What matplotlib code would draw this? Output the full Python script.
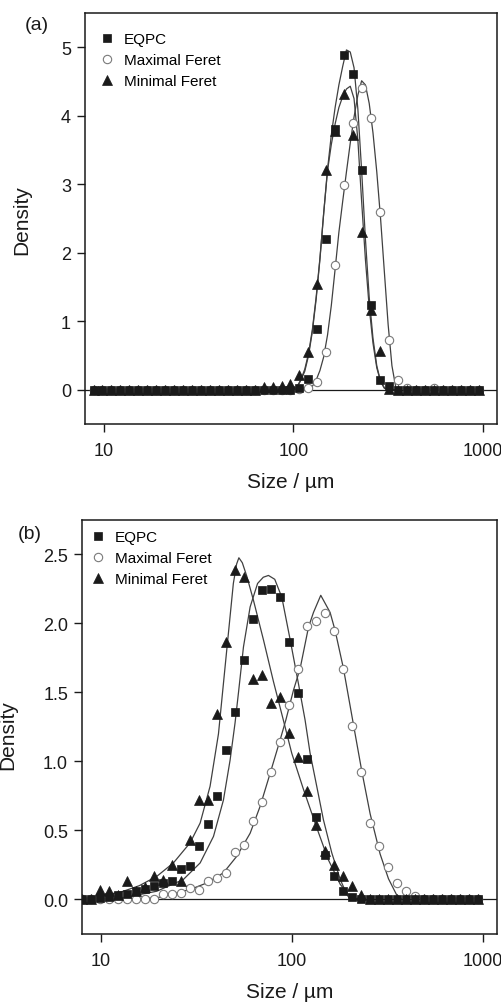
"""Particle size density: EQPC, maximal and minimal Feret, two samples (a) and (b)."""

import matplotlib
matplotlib.use("Agg")
import matplotlib.pyplot as plt
from matplotlib.lines import Line2D
from matplotlib.ticker import NullLocator

plt.rcParams["font.family"] = ["Liberation Sans", "DejaVu Sans"]

# ------------------------------------------------------------
# data
# ------------------------------------------------------------

# measurement size classes, µm
SIZE_GRID = [7.90, 8.81, 9.82, 10.95, 12.20, 13.61, 15.18, 16.92, 18.87, 21.03,
             23.45, 26.15, 29.15, 32.51, 36.24, 40.41, 45.06, 50.23, 56.01, 62.45,
             69.63, 77.64, 86.57, 96.51, 107.6, 120.0, 133.8, 149.2, 166.3, 185.5,
             206.8, 230.6, 257.1, 286.7, 319.6, 356.4, 397.3, 443.0, 493.9, 550.7,
             614.0, 684.6, 763.4, 851.1, 949.0]

# panel (a) uses SIZE_GRID[1:]
A_EQPC = [0.00, 0.00, 0.00, 0.00, 0.00, 0.00, 0.00, 0.00, 0.00, 0.00,
          0.00, 0.00, 0.00, 0.00, 0.00, 0.00, 0.00, 0.00, 0.00, 0.00,
          0.00, 0.00, 0.00, 0.02, 0.16, 0.88, 2.20, 3.80, 4.89, 4.61,
          3.21, 1.24, 0.14, 0.06, 0.00, 0.00, 0.00, 0.00, 0.00, 0.00,
          0.00, 0.00, 0.00, 0.00]
A_MAXFERET = [0.00, 0.00, 0.00, 0.00, 0.00, 0.00, 0.00, 0.00, 0.00, 0.00,
              0.00, 0.00, 0.00, 0.00, 0.00, 0.00, 0.00, 0.00, 0.00, 0.00,
              0.00, 0.00, 0.00, 0.01, 0.03, 0.11, 0.55, 1.82, 2.99, 3.90,
              4.40, 3.97, 2.60, 0.72, 0.14, 0.02, 0.00, 0.00, 0.02, 0.00,
              0.00, 0.00, 0.00, 0.00]
A_MINFERET = [0.00, 0.00, 0.00, 0.00, 0.00, 0.00, 0.00, 0.00, 0.00, 0.00,
              0.00, 0.00, 0.00, 0.00, 0.00, 0.00, 0.00, 0.00, 0.00, 0.04,
              0.04, 0.05, 0.08, 0.21, 0.55, 1.545, 3.21, 3.77, 4.31, 3.72,
              2.30, 1.16, 0.57, 0.01, 0.00, 0.00, 0.00, 0.00, 0.00, 0.00,
              0.00, 0.00, 0.00, 0.00]

# fitted curves, panel (a)
A_FIT_SIZE = [100.0, 104.7, 109.6, 114.8, 120.2, 125.9, 131.8, 138.0, 144.5, 151.4,
              158.5, 166.0, 173.8, 182.0, 190.5, 199.5, 208.9, 218.8, 229.1, 239.9,
              251.2, 263.0, 275.4, 288.4, 302.0, 316.2, 331.1, 346.7, 363.1]
A_FIT_EQPC = [0.00, 0.04, 0.14, 0.27, 0.50, 0.85, 1.32, 1.90, 2.58, 3.22,
              3.72, 4.12, 4.45, 4.72, 4.96, 4.93, 4.70, 4.10, 3.20, 2.20,
              1.35, 0.75, 0.35, 0.12, 0.02, 0.00, 0.00, 0.00, 0.00]
A_FIT_MAXFERET = [0.00, 0.00, 0.00, 0.00, 0.00, 0.05, 0.14, 0.28, 0.48, 0.80,
                  1.23, 1.76, 2.30, 2.75, 3.18, 3.60, 3.98, 4.30, 4.51, 4.45,
                  4.18, 3.75, 3.18, 2.50, 1.72, 0.95, 0.35, 0.04, 0.00]
A_FIT_MINFERET = [0.00, 0.05, 0.15, 0.30, 0.53, 0.88, 1.35, 1.92, 2.58, 3.20,
                  3.58, 3.88, 4.12, 4.28, 4.39, 4.43, 4.25, 3.65, 2.75, 1.90,
                  1.20, 0.68, 0.32, 0.12, 0.03, 0.00, 0.00, 0.00, 0.00]

# panel (b) uses the full SIZE_GRID
B_EQPC = [0.00, 0.00, 0.01, 0.02, 0.03, 0.043, 0.06, 0.077, 0.096, 0.12,
          0.132, 0.22, 0.24, 0.39, 0.547, 0.751, 1.084, 1.361, 1.734, 2.035,
          2.24, 2.252, 2.19, 1.866, 1.498, 1.016, 0.60, 0.32, 0.17, 0.06,
          0.02, 0.00, 0.00, 0.00, 0.00, 0.00, 0.00, 0.00, 0.00, 0.00,
          0.00, 0.00, 0.00, 0.00, 0.00]
B_MAXFERET = [0.00, 0.00, 0.00, 0.00, 0.00, 0.00, 0.00, 0.00, 0.007, 0.041,
              0.043, 0.048, 0.08, 0.067, 0.137, 0.157, 0.193, 0.345, 0.397, 0.566,
              0.71, 0.927, 1.144, 1.409, 1.667, 1.98, 2.02, 2.076, 1.946, 1.667,
              1.257, 0.927, 0.554, 0.385, 0.233, 0.12, 0.06, 0.024, 0.00, 0.00,
              0.00, 0.00, 0.00, 0.00, 0.00]
B_MINFERET = [0.00, 0.00, 0.067, 0.06, 0.03, 0.137, 0.06, 0.09, 0.168, 0.14,
              0.248, 0.132, 0.434, 0.718, 0.722, 1.342, 1.869, 2.384, 2.336, 1.595,
              1.626, 1.426, 1.469, 1.204, 1.036, 0.788, 0.542, 0.349, 0.248, 0.168,
              0.101, 0.036, 0.00, 0.00, 0.00, 0.00, 0.00, 0.00, 0.00, 0.00,
              0.00, 0.00, 0.00, 0.00, 0.00]

# fitted curves, panel (b)
B_FIT_EQPC_SIZE = [7.94, 13.09, 19.59, 26.98, 33.04, 38.81, 43.75, 47.42, 50.35, 52.48,
                   55.72, 60.39, 66.07, 70.79, 75.34, 81.28, 88.51, 97.95, 108.1, 117.2,
                   124.5, 134.9, 146.2, 161.8, 179.1, 194.1, 201.8]
B_FIT_EQPC = [0.00, 0.012, 0.06, 0.145, 0.265, 0.457, 0.72, 1.01, 1.28, 1.50,
              1.83, 2.12, 2.29, 2.335, 2.348, 2.32, 2.19, 1.88, 1.566, 1.30,
              1.06, 0.82, 0.578, 0.337, 0.145, 0.036, 0.00]
B_FIT_MAXFERET_SIZE = [7.94, 12.59, 19.59, 29.24, 35.81, 43.75, 51.40, 60.39, 68.08, 76.91,
                       86.70, 92.90, 101.9, 110.4, 122.2, 129.7, 141.6, 158.5, 168.3, 186.2,
                       209.9, 232.3, 257.0, 289.7, 320.6, 354.8, 376.7]
B_FIT_MAXFERET = [0.00, 0.00, 0.012, 0.072, 0.12, 0.193, 0.313, 0.48, 0.674, 0.915,
                  1.156, 1.30, 1.517, 1.674, 1.975, 2.08, 2.204, 2.08, 1.95, 1.674,
                  1.27, 0.93, 0.62, 0.33, 0.15, 0.03, 0.00]
B_FIT_MINFERET_SIZE = [7.94, 10.0, 13.09, 15.85, 19.59, 23.93, 29.24, 33.04, 37.24, 41.21,
                       43.65, 46.24, 49.32, 51.29, 52.72, 54.95, 58.08, 62.81, 70.96, 79.98,
                       90.16, 99.77, 114.8, 134.9, 154.9, 179.1, 201.8, 229.1]
B_FIT_MINFERET = [0.00, 0.025, 0.06, 0.10, 0.168, 0.265, 0.41, 0.554, 0.82, 1.20,
                  1.55, 1.90, 2.29, 2.43, 2.476, 2.44, 2.34, 2.17, 1.88, 1.58,
                  1.30, 1.06, 0.80, 0.52, 0.29, 0.11, 0.02, 0.00]

SERIES_LABELS = ["EQPC", "Maximal Feret", "Minimal Feret"]

# ------------------------------------------------------------
# styles
# ------------------------------------------------------------

INK = "#1a1a1a"
FIT_COLOR = "#404040"
SQUARE = dict(marker="s", markersize=5.4, markerfacecolor=INK, markeredgecolor=INK,
              markeredgewidth=0.5, linestyle="none")
CIRCLE = dict(marker="o", markersize=6.0, markerfacecolor="white", markeredgecolor="#7a7a7a",
              markeredgewidth=0.8, linestyle="none")
TRIANGLE = dict(marker="^", markersize=7.2, markerfacecolor=INK, markeredgecolor=INK,
                markeredgewidth=0.5, linestyle="none")


def draw_panel(ax, sizes, eqpc, maxf, minf, fits, ylim, yticks, yfmt, legend_anchor):
    for fx, fy in fits:
        ax.plot(fx, fy, color=FIT_COLOR, linewidth=0.9, zorder=2)

    ax.axhline(0.0, color=INK, linewidth=0.9, zorder=1.5)

    ax.plot(sizes, maxf, zorder=3, **CIRCLE)
    ax.plot(sizes, eqpc, zorder=4, **SQUARE)
    ax.plot(sizes, minf, zorder=5, **TRIANGLE)

    ax.set_xscale("log")
    ax.set_xlim(7.94, 1187)
    ax.set_ylim(*ylim)
    ax.set_xticks([10, 100, 1000])
    ax.set_xticklabels(["10", "100", "1000"])
    ax.xaxis.set_minor_locator(NullLocator())
    ax.set_yticks(yticks)
    ax.set_yticklabels([yfmt.format(v) for v in yticks])

    for spine in ax.spines.values():
        spine.set_linewidth(1.1)
        spine.set_color(INK)
    ax.tick_params(axis="both", direction="out", length=6, width=1.0,
                   colors=INK, labelsize=13, pad=4)
    ax.tick_params(axis="x", pad=7)
    ax.set_xlabel("Size / µm", fontsize=15, color=INK, labelpad=9)

    handles = [Line2D([], [], **SQUARE), Line2D([], [], **CIRCLE),
               Line2D([], [], **TRIANGLE)]
    ax.legend(handles, SERIES_LABELS, loc="upper left", bbox_to_anchor=legend_anchor,
              frameon=False, fontsize=11, handlelength=1.0, handletextpad=0.6,
              borderpad=0.0, borderaxespad=0.0, labelspacing=0.45)


fig = plt.figure(figsize=(5.02, 10.03), dpi=100)

ax_a = fig.add_axes([0.1693, 0.5763, 0.8207, 0.4098])
draw_panel(
    ax_a, SIZE_GRID[1:], A_EQPC, A_MAXFERET, A_MINFERET,
    [(A_FIT_SIZE, A_FIT_MAXFERET), (A_FIT_SIZE, A_FIT_EQPC), (A_FIT_SIZE, A_FIT_MINFERET)],
    (-0.5, 5.5), [0, 1, 2, 3, 4, 5], "{:.0f}", (0.035, 0.953),
)

ax_b = fig.add_axes([0.1633, 0.0678, 0.8267, 0.4128])
draw_panel(
    ax_b, SIZE_GRID, B_EQPC, B_MAXFERET, B_MINFERET,
    [(B_FIT_MAXFERET_SIZE, B_FIT_MAXFERET), (B_FIT_EQPC_SIZE, B_FIT_EQPC),
     (B_FIT_MINFERET_SIZE, B_FIT_MINFERET)],
    (-0.25, 2.75), [0.0, 0.5, 1.0, 1.5, 2.0, 2.5], "{:.1f}", (0.020, 0.975),
)

# y labels and panel letters sit in figure coordinates
fig.text(22 / 502, 1 - 220 / 1003, "Density", rotation=90, ha="center", va="center",
         fontsize=15, color=INK)
fig.text(8 / 502, 1 - 735 / 1003, "Density", rotation=90, ha="center", va="center",
         fontsize=15, color=INK)
fig.text(37 / 502, 1 - 26 / 1003, "(a)", ha="center", va="center", fontsize=14, color=INK)
fig.text(30 / 502, 1 - 535 / 1003, "(b)", ha="center", va="center", fontsize=14, color=INK)

fig.savefig("out.png", dpi=100)
